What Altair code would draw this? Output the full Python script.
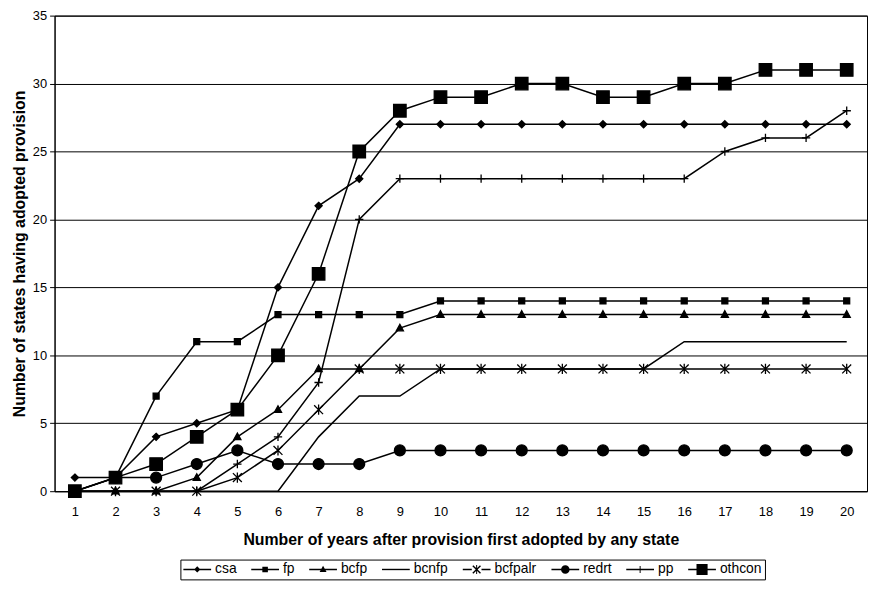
import altair as alt
import pandas as pd

years = list(range(1, 21))
series = ["csa", "fp", "bcfp", "bcnfp", "bcfpalr", "redrt", "pp", "othcon"]

csa = [1, 1, 4, 5, 6, 15, 21, 23, 27, 27, 27, 27, 27, 27, 27, 27, 27, 27, 27, 27]
fp = [0, 1, 7, 11, 11, 13, 13, 13, 13, 14, 14, 14, 14, 14, 14, 14, 14, 14, 14, 14]
bcfp = [0, 0, 0, 1, 4, 6, 9, 9, 12, 13, 13, 13, 13, 13, 13, 13, 13, 13, 13, 13]
bcnfp = [0, 0, 0, 0, 0, 0, 4, 7, 7, 9, 9, 9, 9, 9, 9, 11, 11, 11, 11, 11]
bcfpalr = [0, 0, 0, 0, 1, 3, 6, 9, 9, 9, 9, 9, 9, 9, 9, 9, 9, 9, 9, 9]
redrt = [0, 1, 1, 2, 3, 2, 2, 2, 3, 3, 3, 3, 3, 3, 3, 3, 3, 3, 3, 3]
pp = [0, 0, 0, 0, 2, 4, 8, 20, 23, 23, 23, 23, 23, 23, 23, 23, 25, 26, 26, 28]
othcon = [0, 1, 2, 4, 6, 10, 16, 25, 28, 29, 29, 30, 30, 29, 29, 30, 30, 31, 31, 31]

values = {"csa": csa, "fp": fp, "bcfp": bcfp, "bcnfp": bcnfp,
          "bcfpalr": bcfpalr, "redrt": redrt, "pp": pp, "othcon": othcon}

rows = []
for s in series:
    for yr, v in zip(years, values[s]):
        rows.append({"year": yr, "series": s, "value": v})
df = pd.DataFrame(rows)

# marker shapes in the plot (unit paths)
plot_shapes = [
    "M0,-0.6L0.6,0L0,0.6L-0.6,0Z",
    "M-0.5,-0.5H0.5V0.5H-0.5Z",
    "M0,-0.65L0.6,0.45L-0.6,0.45Z",
    "M0,0",
    "M-0.75,-0.75L0.75,0.75M-0.75,0.75L0.75,-0.75M0,-0.85V0.85",
    "M0.92,0A0.92,0.92 0 1,1 -0.92,0A0.92,0.92 0 1,1 0.92,0Z",
    "M-0.7,0H0.7M0,-0.7V0.7",
    "M-1.05,-1.05H1.05V1.05H-1.05Z",
]

# legend symbols (filled outlines): line segment plus marker, drawn to the right
LINE = "M-1,-0.1H3V0.1H-1Z"
legend_shapes = [
    LINE + "M1,-0.45L1.45,0L1,0.45L0.55,0Z",
    LINE + "M0.6,-0.4H1.4V0.4H0.6Z",
    LINE + "M1,-0.55L1.5,0.35L0.5,0.35Z",
    LINE,
    "M-1,-0.1H0.3V0.1H-1ZM1.7,-0.1H3V0.1H1.7Z"
    "M0.52,-0.62L1.62,0.48L1.48,0.62L0.38,-0.48Z"
    "M0.38,0.48L1.48,-0.62L1.62,-0.48L0.52,0.62Z"
    "M0.93,-0.65H1.07V0.65H0.93Z",
    LINE + "M1.62,0A0.62,0.62 0 1,1 0.38,0A0.62,0.62 0 1,1 1.62,0Z",
    LINE + "M0.93,-0.5H1.07V0.5H0.93Z",
    LINE + "M0.2,-0.8H1.8V0.8H0.2Z",
]

x_enc = alt.X(
    "year:O",
    scale=alt.Scale(type="point", padding=0.5),
    axis=alt.Axis(
        title="Number of years after provision first adopted by any state",
        labelAngle=0, ticks=False, labelPadding=15, titlePadding=13,
        domainColor="black", labelColor="black", titleColor="black",
        labelFontSize=13, titleFontSize=16, titleFontWeight="bold",
    ),
)
y_enc = alt.Y(
    "value:Q",
    scale=alt.Scale(domain=[0, 35], nice=False),
    axis=alt.Axis(
        title="Number of states having adopted provision",
        values=[0, 5, 10, 15, 20, 25, 30, 35],
        grid=True, gridColor="black", gridOpacity=1, gridWidth=1,
        domainColor="black", tickColor="black", tickSize=5,
        labelColor="black", titleColor="black", labelFontSize=13,
        labelPadding=3, titleFontSize=16, titleFontWeight="bold", titlePadding=5,
    ),
)

lines = alt.Chart(df).mark_line(color="black", strokeWidth=1.5).encode(
    x=x_enc, y=y_enc, detail="series:N"
)

points = alt.Chart(df).mark_point(
    filled=True, fill="black", stroke="black", strokeWidth=1.3, size=144, opacity=1
).encode(
    x=x_enc, y=y_enc,
    shape=alt.Shape("series:N", scale=alt.Scale(domain=series, range=plot_shapes), legend=None),
)

legend_layer = alt.Chart(df).transform_filter("datum.value < 0").mark_point(
    filled=True, fill="black", opacity=1
).encode(
    x=x_enc, y=y_enc,
    shape=alt.Shape(
        "series:N",
        scale=alt.Scale(domain=series, range=legend_shapes),
        legend=alt.Legend(
            title=None, orient="none", legendX=127, legendY=549,
            direction="horizontal", columns=8, strokeColor="black",
            padding=3, symbolSize=196, symbolFillColor="black",
            symbolStrokeWidth=0, symbolOpacity=1,
            labelFontSize=14, labelColor="black", labelOffset=18, columnPadding=14.5,
        ),
    ),
)

chart = alt.layer(lines, points, legend_layer).resolve_scale(shape="independent").properties(
    width=820, height=480,
    autosize=alt.AutoSizeParams(type="none"),
    padding={"left": 47, "top": 5, "right": 2, "bottom": 95},
).configure(font="Liberation Sans").configure_view(stroke="black", strokeWidth=1)

chart.save("out.html", embed_options={"renderer": "svg", "actions": False})
